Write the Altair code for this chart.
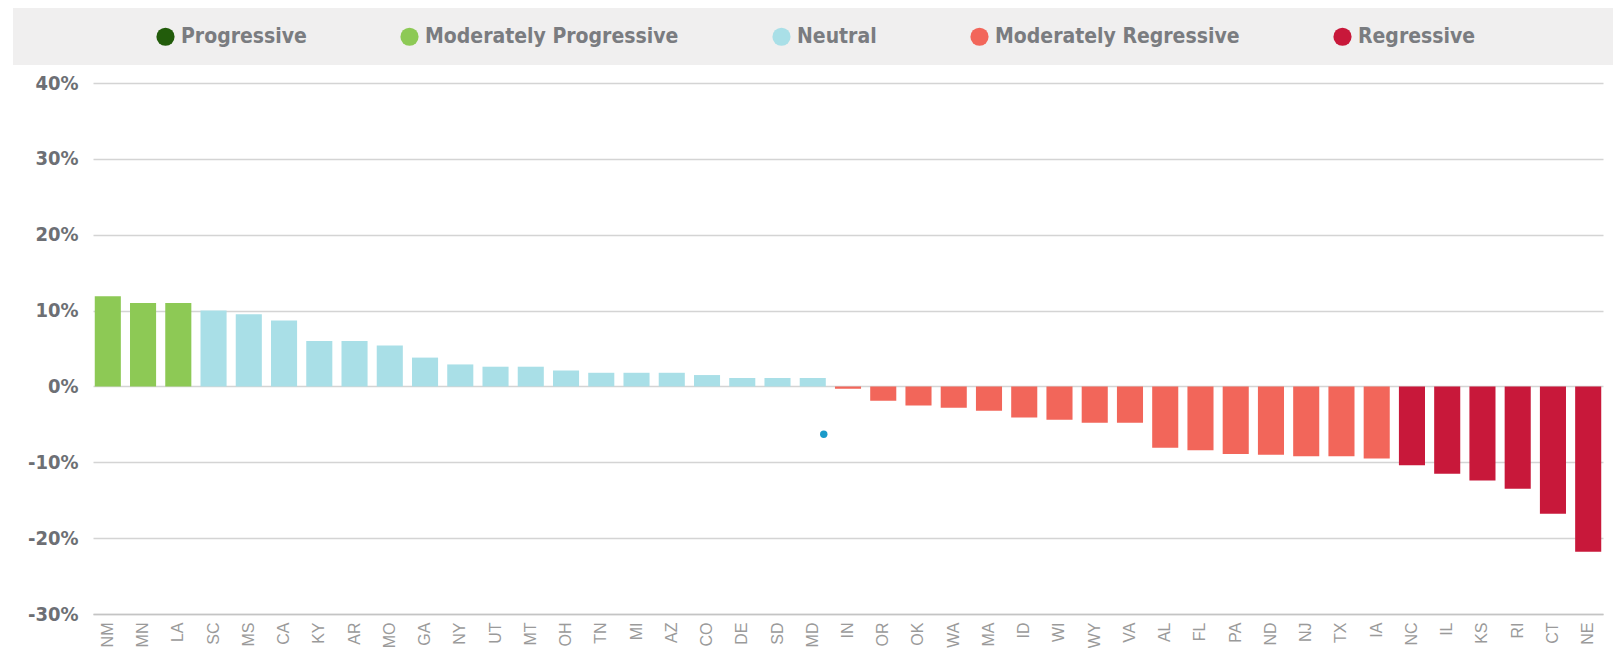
import altair as alt
import pandas as pd

states = ["NM", "MN", "LA", "SC", "MS", "CA", "KY", "AR", "MO", "GA", "NY", "UT", "MT", "OH",
          "TN", "MI", "AZ", "CO", "DE", "SD", "MD", "IN", "OR", "OK", "WA", "MA", "ID", "WI",
          "WY", "VA", "AL", "FL", "PA", "ND", "NJ", "TX", "IA", "NC", "IL", "KS", "RI", "CT", "NE"]
values = [11.9, 11.0, 11.0, 10.0, 9.5, 8.7, 6.0, 6.0, 5.4, 3.8, 2.9, 2.6, 2.6, 2.1,
          1.8, 1.8, 1.8, 1.5, 1.1, 1.1, 1.1, -0.3, -1.9, -2.5, -2.8, -3.2, -4.1, -4.4,
          -4.8, -4.8, -8.1, -8.4, -8.9, -9.0, -9.2, -9.2, -9.5, -10.4, -11.5, -12.4, -13.5, -16.8, -21.8]
groups = (["Moderately Progressive"] * 3 + ["Neutral"] * 18 +
          ["Moderately Regressive"] * 16 + ["Regressive"] * 6)

categories = ["Progressive", "Moderately Progressive", "Neutral", "Moderately Regressive", "Regressive"]
cat_colors = ["#225c0b", "#8dc955", "#a9dfe7", "#f2665a", "#c8183a"]

y_ticks = [-30, -20, -10, 0, 10, 20, 30, 40]

marker_state = ["MD"]
marker_value = [-6.3]

df = pd.DataFrame({"state": states, "value": values, "group": groups})
marker_df = pd.DataFrame({"state": marker_state, "value": marker_value})

NARROW = "Liberation Sans Narrow, DejaVu Sans Condensed, Arial Narrow, sans-serif"

x_enc = alt.X("state:N", sort=states, title=None,
              scale=alt.Scale(paddingInner=0.26, paddingOuter=0.05),
              axis=alt.Axis(labelAngle=270, labelFont="Liberation Sans", labelFontSize=16,
                            labelColor="#9a9a9a", labelPadding=8, ticks=False,
                            domainColor="#c4c4c4", domainWidth=1.5, grid=False))
y_enc = alt.Y("value:Q", title=None,
              scale=alt.Scale(domain=[-30, 40], nice=False, zero=False),
              axis=alt.Axis(values=y_ticks, labelExpr="datum.value + '%'",
                            labelFont=NARROW, labelFontWeight="bold", labelFontSize=20,
                            labelColor="#6d6f74", labelPadding=15, ticks=False, domain=False,
                            grid=True, gridColor="#d4d4d4", gridWidth=1.5))

band = alt.Chart(pd.DataFrame({"a": [0]})).mark_rect(color="#f0efef").encode(
    x=alt.value(-80), x2=alt.value(1522), y=alt.value(-75), y2=alt.value(-18))

bars = alt.Chart(df).mark_bar().encode(
    x=x_enc,
    y=y_enc,
    color=alt.Color("group:N", scale=alt.Scale(domain=categories, range=cat_colors),
                    legend=alt.Legend(title=None, orient="none", legendX=62, legendY=-57,
                                      direction="horizontal", symbolType="circle",
                                      symbolSize=330, symbolStrokeWidth=0, symbolOpacity=1,
                                      labelFont=NARROW, labelFontWeight="bold",
                                      labelFontSize=21, labelColor="#7a7c80", labelOffset=5,
                                      columnPadding=92, labelLimit=400)),
)

dot = alt.Chart(marker_df).mark_circle(color="#1a9ac9", opacity=1, size=55, xOffset=11).encode(
    x=alt.X("state:N", sort=states),
    y=alt.Y("value:Q"),
)

chart = alt.layer(band, bars, dot).properties(
    width=1510, height=531,
    background="white",
    autosize=alt.AutoSizeParams(type="none"),
    padding={"left": 85, "top": 75, "right": 10, "bottom": 34},
).configure_view(strokeWidth=0, stroke="transparent")

chart.save("out.html", embed_options={"renderer": "svg", "actions": False})
